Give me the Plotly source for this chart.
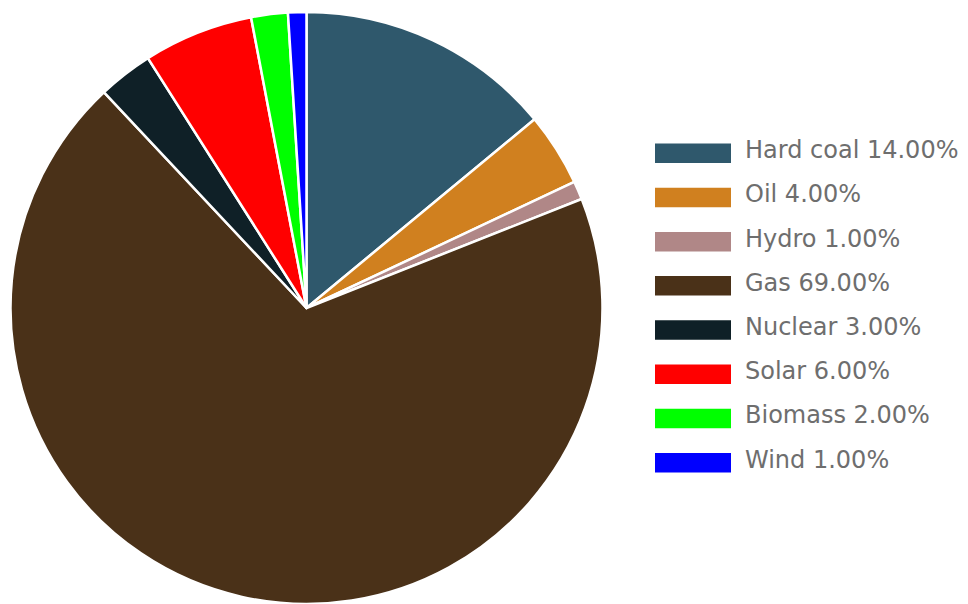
import plotly.graph_objects as go

labels = ["Hard coal", "Oil", "Hydro", "Gas", "Nuclear", "Solar", "Biomass", "Wind"]
values = [14, 4, 1, 69, 3, 6, 2, 1]
colors = ["#2f586c", "#d0801f", "#b08787", "#4a3118", "#0f2027", "#ff0000", "#00ff00", "#0000ff"]

W, H = 968, 604
OFF = 8  # page body margin offset
total = sum(values)

cx, cy, r = 306.5 - OFF, 308 - OFF, 296
fig = go.Figure(go.Pie(
    labels=labels,
    values=values,
    marker=dict(colors=colors, line=dict(color="white", width=2.5)),
    sort=False,
    direction="clockwise",
    rotation=0,
    textinfo="none",
    hoverinfo="label+percent",
    showlegend=False,
    domain=dict(x=[(cx - r) / W, (cx + r) / W], y=[1 - (cy + r) / H, 1 - (cy - r) / H]),
))

# custom legend (wide rectangular swatches)
sw_x0, sw_x1 = 655 - OFF, 731 - OFF
row0_top, row_h, pitch = 143.5 - OFF, 19.5, 44.2
shapes, annotations = [], []
for i, (lab, val, col) in enumerate(zip(labels, values, colors)):
    top = row0_top + i * pitch
    bot = top + row_h
    shapes.append(dict(type="rect", xref="paper", yref="paper",
                       x0=sw_x0 / W, x1=sw_x1 / W,
                       y0=1 - bot / H, y1=1 - top / H,
                       fillcolor=col, line=dict(width=0)))
    annotations.append(dict(xref="paper", yref="paper",
                            x=(743 - OFF) / W, y=1 - (top + row_h / 2 - 3) / H,
                            xanchor="left", yanchor="middle",
                            text=f"{lab} {val / total * 100:.2f}%",
                            showarrow=False,
                            font=dict(family="DejaVu Sans", size=24, color="#6e6e6e")))

fig.update_layout(
    width=W, height=H,
    margin=dict(l=0, r=0, t=0, b=0),
    paper_bgcolor="white", plot_bgcolor="white",
    shapes=shapes, annotations=annotations,
)

fig.write_html("out.html")
